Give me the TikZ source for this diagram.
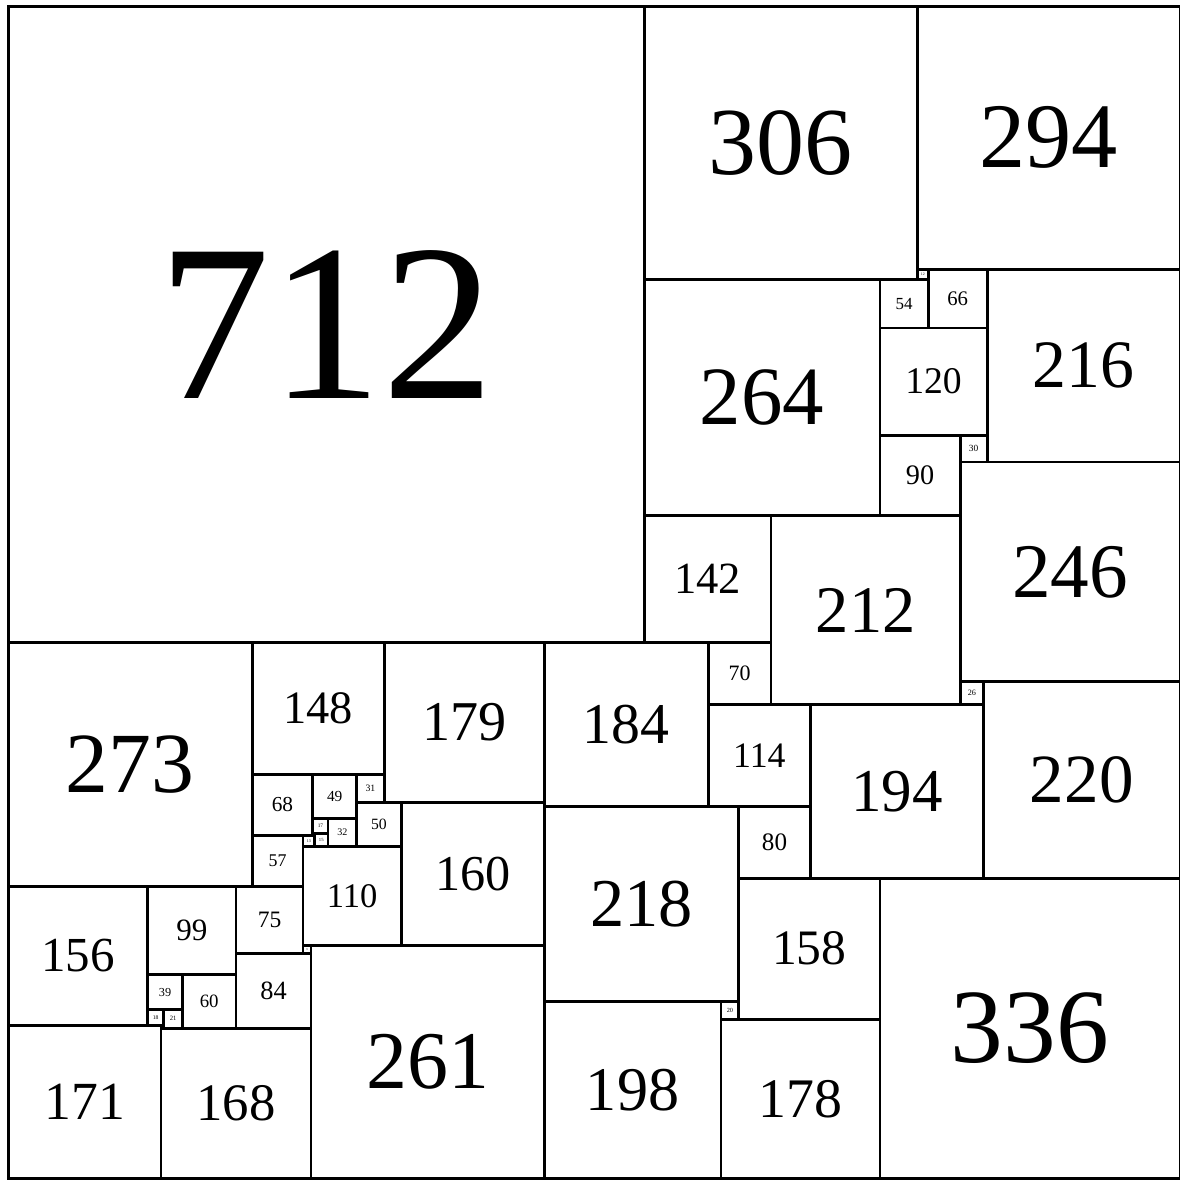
\documentclass[tikz,border=0pt]{standalone}
\usepackage{fontspec}
\setmainfont{Liberation Serif}
\usepackage{tikz}
\newcommand{\sqfont}[1]{\fontsize{\fpeval{0.1*#1}pt}{\fpeval{0.12*#1}pt}\selectfont}

\begin{document}
\begin{tikzpicture}[
    x=0.1mm, y=0.1mm,
    sq/.style={draw, line width=0.9pt, inner sep=0pt, outer sep=0pt,
               minimum size=#1*0.1mm, font=\sqfont{#1}},
]
\useasboundingbox (-9.3,7.3) rectangle (1312,-1313.9);

% Top left and top row
\node[sq=712] (s712) at (356,-356)   {712};
\node[sq=306] (s306) at (865,-153)   {306};
\node[sq=294] (s294) at (1165,-147)  {294};

% Right of 264
\node[sq=12]  (s12)  at (1024,-300)  {12};
\node[sq=66]  (s66)  at (1063,-327)  {66};
\node[sq=216] (s216) at (1204,-402)  {216};
\node[sq=264] (s264) at (844,-438)   {264};
\node[sq=54]  (s54)  at (1003,-333)  {54};
\node[sq=120] (s120) at (1036,-420)  {120};
\node[sq=90]  (s90)  at (1021,-525)  {90};
\node[sq=30]  (s30)  at (1081,-495)  {30};
\node[sq=246] (s246) at (1189,-633)  {246};
\node[sq=142] (s142) at (783,-641)   {142};
\node[sq=212] (s212) at (960,-676)   {212};

% Middle band
\node[sq=273] (s273) at (136.5,-848.5) {273};
\node[sq=148] (s148) at (347,-786)     {148};
\node[sq=179] (s179) at (510.5,-801.5) {179};
\node[sq=184] (s184) at (692,-804)     {184};
\node[sq=70]  (s70)  at (819,-747)     {70};
\node[sq=26]  (s26)  at (1079,-769)    {26};
\node[sq=220] (s220) at (1202,-866)    {220};
\node[sq=114] (s114) at (841,-839)     {114};
\node[sq=194] (s194) at (995,-879)     {194};

% Small squares under 148
\node[sq=68]  (s68)  at (307,-894)     {68};
\node[sq=49]  (s49)  at (365.5,-884.5) {49};
\node[sq=31]  (s31)  at (405.5,-875.5) {31};
\node[sq=50]  (s50)  at (415,-916)     {50};
\node[sq=32]  (s32)  at (374,-925)     {32};
\node[sq=17]  (s17)  at (349.5,-917.5) {17};
\node[sq=2]   (s2)   at (342,-927)     {};
\node[sq=15]  (s15)  at (350.5,-933.5) {15};
\node[sq=13]  (s13)  at (336.5,-934.5) {13};
\node[sq=57]  (s57)  at (301.5,-956.5) {57};
\node[sq=110] (s110) at (385,-996)     {110};
\node[sq=160] (s160) at (520,-971)     {160};

% Lower right
\node[sq=218] (s218) at (709,-1005)  {218};
\node[sq=80]  (s80)  at (858,-936)   {80};
\node[sq=336] (s336) at (1144,-1144) {336};
\node[sq=158] (s158) at (897,-1055)  {158};
\node[sq=20]  (s20)  at (808,-1124)  {20};
\node[sq=198] (s198) at (699,-1213)  {198};
\node[sq=178] (s178) at (887,-1223)  {178};

% Lower left
\node[sq=156] (s156) at (78,-1063)     {156};
\node[sq=99]  (s99)  at (205.5,-1034.5) {99};
\node[sq=75]  (s75)  at (292.5,-1022.5) {75};
\node[sq=9]   (s9)   at (334.5,-1055.5) {9};
\node[sq=261] (s261) at (469.5,-1181.5) {261};
\node[sq=84]  (s84)  at (297,-1102)    {84};
\node[sq=39]  (s39)  at (175.5,-1103.5) {39};
\node[sq=60]  (s60)  at (225,-1114)    {60};
\node[sq=18]  (s18)  at (165,-1132)    {18};
\node[sq=21]  (s21)  at (184.5,-1133.5) {21};
\node[sq=3]   (s3)   at (172.5,-1142.5) {};
\node[sq=171] (s171) at (85.5,-1226.5) {171};
\node[sq=168] (s168) at (255,-1228)    {168};

\end{tikzpicture}
\end{document}
